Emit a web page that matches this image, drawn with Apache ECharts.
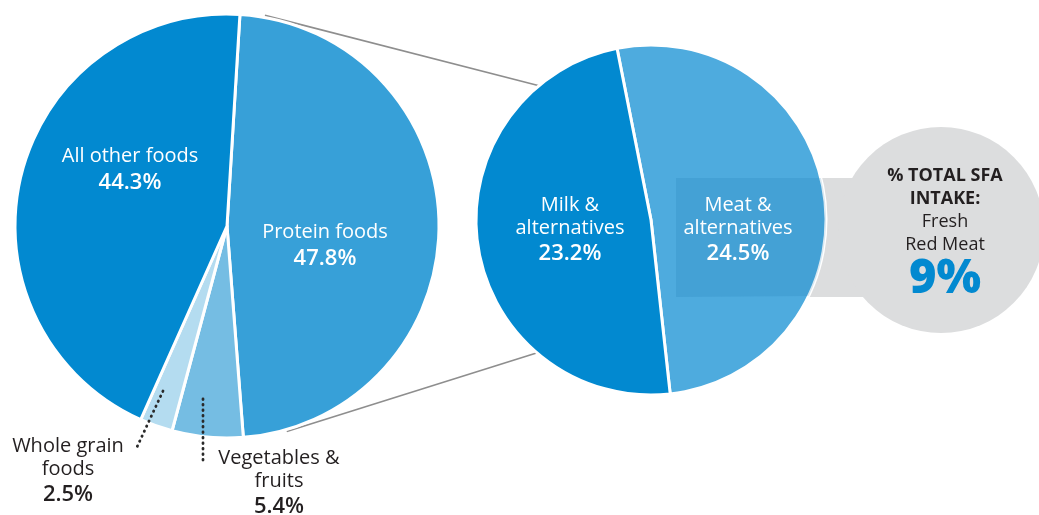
<!DOCTYPE html>
<html>
<head>
<meta charset="utf-8">
<script src="https://cdn.jsdelivr.net/npm/echarts@6/dist/echarts.min.js"></script>
<style>
  html, body { margin: 0; padding: 0; background: #fff; }
  #chart { width: 1039px; height: 515px; }
</style>
</head>
<body>
<div id="chart"></div>
<script>
// data
const foodGroups = ['Protein foods', 'Vegetables &\nfruits', 'Whole grain\nfoods', 'All other foods']
const foodShares = [47.8, 5.4, 2.5, 44.3]
const proteinGroups = ['Meat &\nalternatives', 'Milk &\nalternatives']
const proteinShares = [24.5, 23.2]
const calloutTitle = ['% TOTAL SFA', 'INTAKE:']
const calloutSubject = ['Fresh', 'Red Meat']
const calloutValue = 9

// look
const FONT = '"Open Sans", "Noto Sans", sans-serif'
const foodColors = ['#37a0d8', '#75bde3', '#b4dcf0', '#0289d0']
const proteinColors = ['#4eabde', '#0289d0']
const TEXT_DARK = '#231f20'
const LINE_GREY = '#8e8e8e'

const leftPie = { cx: 227, cy: 226, r: 212 }
const rightPie = { cx: 651, cy: 220, r: 175 }
const bubble = { cx: 941, cy: 230, r: 103 }
const band = { x: 676, y: 178, h: 119 }

// label anchors (block centres), per slice
const foodLabelAt = [[325, 247], [279, 484], [68, 472], [130, 171]]
const foodLeaders = [
  [[203, 399], [203, 462]],
  [[163, 391], [137, 447]]
]
const proteinLabelAt = [[738, 231], [570, 231]]

const polar = (c, r, deg) => {
  const a = deg * Math.PI / 180
  return [c.cx + Math.sin(a) * r, c.cy - Math.cos(a) * r]
}

const pieLabel = (name, value) => `{n|${name}}\n{v|${value.toFixed(1)}%}`

const richWhite = {
  n: { color: '#fff', fontSize: 20, fontFamily: FONT, lineHeight: 23 },
  v: { color: '#fff', fontSize: 22, fontWeight: 600, fontFamily: FONT, lineHeight: 29 }
}
const richDark = {
  n: { color: TEXT_DARK, fontSize: 20, fontFamily: FONT, lineHeight: 23 },
  v: { color: TEXT_DARK, fontSize: 22, fontWeight: 600, fontFamily: FONT, lineHeight: 28 }
}

const foodData = foodGroups.map((name, i) => ({
  name,
  value: foodShares[i],
  itemStyle: { color: foodColors[i] },
  label: { rich: foodShares[i] < 10 ? richDark : richWhite }
}))

const proteinData = proteinGroups.map((name, i) => ({
  name,
  value: proteinShares[i],
  itemStyle: { color: proteinColors[i] }
}))

// overlay = band ∩ right pie, so the band shows darker over the slice
const overlayPts = [[band.x, band.y]]
for (let y = band.y; y <= band.y + band.h; y += 2) {
  const dy = y - rightPie.cy
  overlayPts.push([rightPie.cx + Math.sqrt(rightPie.r * rightPie.r - dy * dy), y])
}
overlayPts.push([band.x, band.y + band.h])

const topA = polar(leftPie, 214, 10.2)
const topB = polar(rightPie, 174, -39.6)
const botA = polar(leftPie, 214, 163.8)
const botB = polar(rightPie, 172, 220)

const textEl = (text, y, size, weight, color) => ({
  type: 'text',
  z: 20,
  style: {
    text, x: bubble.cx + 4, y,
    fill: color, fontSize: size, fontWeight: weight, fontFamily: FONT,
    align: 'center', verticalAlign: 'middle'
  }
})

const leaderEls = foodLeaders.map(pts => ({
  type: 'polyline',
  z: 20,
  shape: { points: pts },
  style: { stroke: '#2a2a2a', lineWidth: 2.8, lineDash: [0.5, 5], lineCap: 'round', fill: null }
}))

const rightPieBase = {
  type: 'pie',
  center: [rightPie.cx, rightPie.cy],
  radius: rightPie.r,
  startAngle: 101.2,
  clockwise: true,
  silent: true
}

const option = {
  animation: false,
  graphic: [
    { type: 'line', z: 0, shape: { x1: topA[0], y1: topA[1], x2: topB[0], y2: topB[1] }, style: { stroke: LINE_GREY, lineWidth: 1.6 } },
    { type: 'line', z: 0, shape: { x1: botA[0], y1: botA[1], x2: botB[0], y2: botB[1] }, style: { stroke: LINE_GREY, lineWidth: 1.6 } },
    { type: 'rect', z: 0, shape: { x: rightPie.cx, y: band.y, width: bubble.cx - rightPie.cx, height: band.h }, style: { fill: '#dcddde' } },
    { type: 'circle', z: 0, shape: { cx: bubble.cx, cy: bubble.cy, r: bubble.r }, style: { fill: '#dcddde' } },
    { type: 'polygon', z: 5, shape: { points: overlayPts }, style: { fill: 'rgba(20, 110, 170, 0.16)' } },
    textEl(calloutTitle[0], 176, 18, 700, TEXT_DARK),
    textEl(calloutTitle[1], 199, 18, 700, TEXT_DARK),
    textEl(calloutSubject[0], 222, 18, 400, TEXT_DARK),
    textEl(calloutSubject[1], 245, 18, 400, TEXT_DARK),
    textEl(calloutValue + '%', 280, 47, 800, '#0289d0'),
    ...leaderEls
  ],
  series: [
    {
      type: 'pie',
      center: [leftPie.cx, leftPie.cy],
      radius: leftPie.r,
      startAngle: 86.5,
      clockwise: true,
      silent: true,
      itemStyle: { borderColor: '#fff', borderWidth: 3 },
      label: {
        position: 'inside',
        formatter: p => pieLabel(p.name, p.value)
      },
      labelLine: { show: false },
      labelLayout: p => {
        const at = foodLabelAt[p.dataIndex]
        return { x: at[0], y: at[1], align: 'center', verticalAlign: 'middle' }
      },
      data: foodData
    },
    {
      ...rightPieBase,
      z: 2,
      itemStyle: { borderColor: '#fff', borderWidth: 3 },
      label: { show: false },
      labelLine: { show: false },
      data: proteinData
    },
    {
      // same geometry, drawn above the band overlay only to carry the labels
      ...rightPieBase,
      z: 8,
      itemStyle: { color: 'rgba(0,0,0,0)', borderWidth: 0 },
      label: {
        position: 'inside',
        rich: richWhite,
        formatter: p => pieLabel(p.name, p.value)
      },
      labelLine: { show: false },
      labelLayout: p => {
        const at = proteinLabelAt[p.dataIndex]
        return { x: at[0], y: at[1], align: 'center', verticalAlign: 'middle' }
      },
      data: proteinGroups.map((name, i) => ({ name, value: proteinShares[i] }))
    }
  ]
}

const chart = echarts.init(document.getElementById('chart'), null, { renderer: 'canvas' })
chart.setOption(option)
</script>
</body>
</html>
